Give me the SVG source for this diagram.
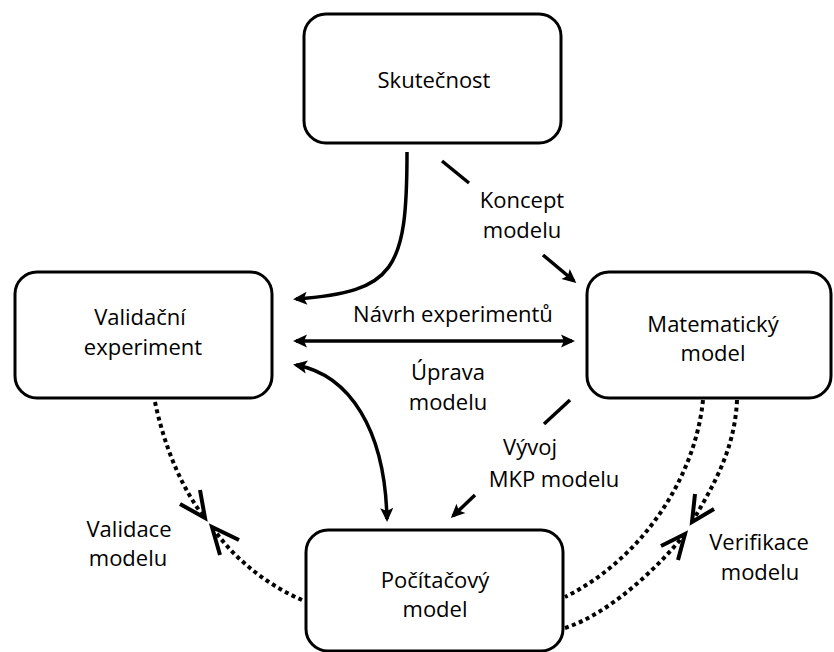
<svg xmlns="http://www.w3.org/2000/svg" width="834" height="652" viewBox="0 0 834 652">
<style>
  .box { fill: #fff; stroke: #000; stroke-width: 3; }
  text { font-family: "Open Sans", "Liberation Sans", sans-serif; font-size: 22px; fill: #000; text-anchor: middle; }
  .solid { fill: none; stroke: #000; stroke-width: 3.5; }
  .dot { fill: none; stroke: #000; stroke-width: 4; stroke-dasharray: 4 3.5; }
  .chev { fill: none; stroke: #000; stroke-width: 4; stroke-linejoin: miter; stroke-linecap: butt; }
</style>
<defs>
  <marker id="ah" markerUnits="userSpaceOnUse" markerWidth="30" markerHeight="30" viewBox="-15 -15 30 30" refX="0" refY="0" orient="auto-start-reverse" overflow="visible">
    <path d="M3,0 L-11,-6.5 L-8,0 L-11,6.5 z" fill="#000"/>
  </marker>
</defs>

<g id="connectors">
  <path class="solid" d="M407,152 C407,270 395,292 296,299" marker-end="url(#ah)"/>
  <path class="solid" d="M442,161 L469,183"/>
  <path class="solid" d="M543,255 L574,281" marker-end="url(#ah)"/>
  <path class="solid" d="M296,341 L572,341" marker-start="url(#ah)" marker-end="url(#ah)"/>
  <path class="solid" d="M296,365 C350,375 385,430 387,519" marker-start="url(#ah)" marker-end="url(#ah)"/>
  <path class="solid" d="M570,400 L544,424"/>
  <path class="solid" d="M475,495 L453,516" marker-end="url(#ah)"/>
  <path class="dot" d="M155,402 C165,450 184,492 205,518"/>
  <path class="chev" d="M180,504 L205,518 L200,490"/>
  <path class="dot" d="M302,600 C272,587 237,563 212,527"/>
  <path class="chev" d="M239,540 L212,527 L220,555"/>
  <path class="dot" d="M703,400 C695,480 640,560 565,597"/>
  <path class="dot" d="M737,400 C735,450 712,488 692,522"/>
  <path class="chev" d="M695,494 L692,522 L714,509"/>
  <path class="dot" d="M565,628 C608,614 655,571 685,534"/>
  <path class="chev" d="M661,546 L685,534 L678,560"/>
</g>

<g id="skutecnost">
  <rect class="box" x="304" y="14" width="257" height="129" rx="22"/>
  <text x="434" y="88">Skutečnost</text>
</g>
<g id="validacni-experiment">
  <rect class="box" x="15" y="272" width="257" height="126" rx="22"/>
  <text x="140" y="325">Validační</text>
  <text x="143" y="355">experiment</text>
</g>
<g id="matematicky-model">
  <rect class="box" x="587" y="272" width="244" height="126" rx="22"/>
  <text x="713" y="332">Matematický</text>
  <text x="713" y="361">model</text>
</g>
<g id="pocitacovy-model">
  <rect class="box" x="306" y="530" width="257" height="121" rx="22"/>
  <text x="435" y="588">Počítačový</text>
  <text x="435" y="617">model</text>
</g>

<g id="labels">
  <text x="522" y="208">Koncept</text>
  <text x="522" y="238">modelu</text>
  <text x="453" y="322">Návrh experimentů</text>
  <text x="448" y="380">Úprava</text>
  <text x="448" y="410">modelu</text>
  <text x="530" y="455">Vývoj</text>
  <text x="554" y="487">MKP modelu</text>
  <text x="129" y="537">Validace</text>
  <text x="128" y="566">modelu</text>
  <text x="759" y="550">Verifikace</text>
  <text x="760" y="580">modelu</text>
</g>
</svg>
